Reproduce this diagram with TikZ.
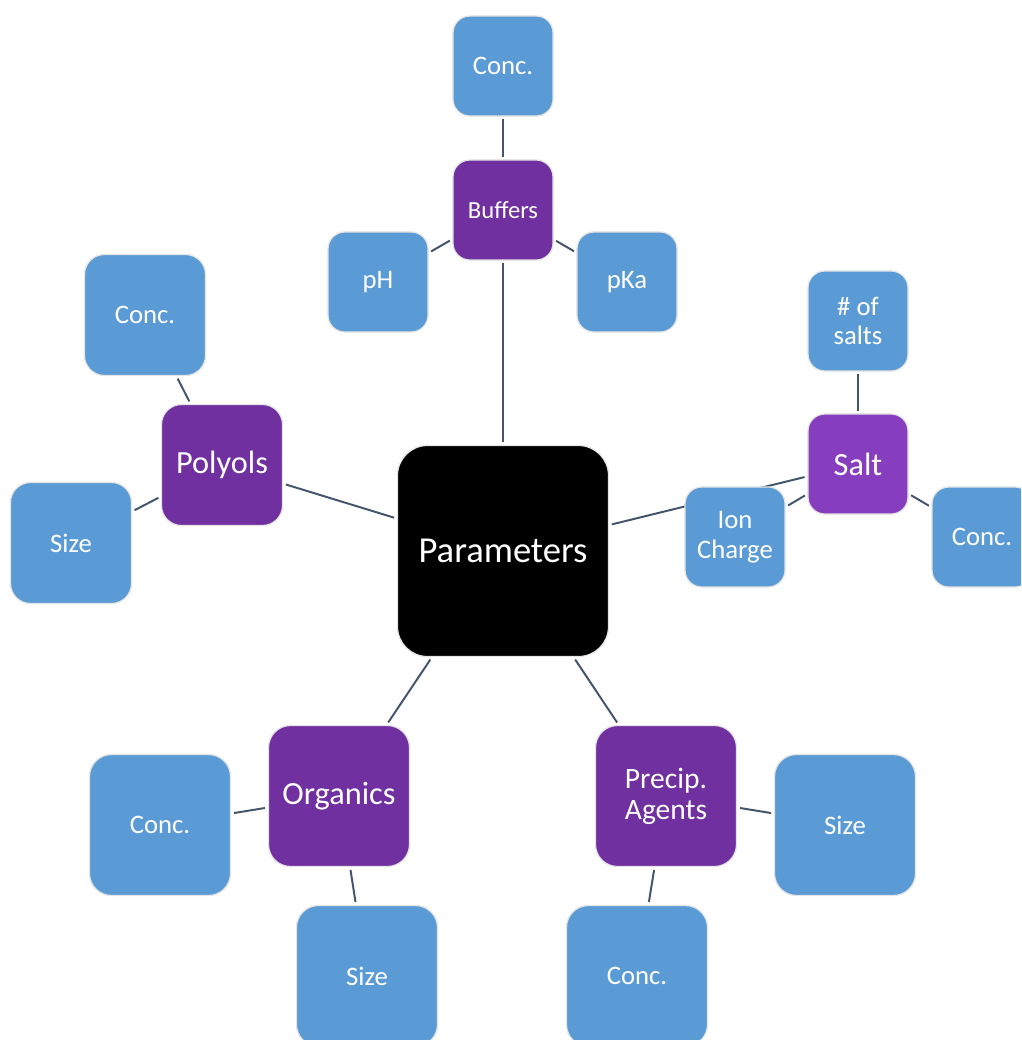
\documentclass[tikz,border=0pt]{standalone}
\usepackage{fontspec}
\setmainfont{Carlito}
\usetikzlibrary{backgrounds}
\definecolor{leafblue}{HTML}{5B9BD5}
\definecolor{topicpurple}{HTML}{7030A0}
\definecolor{saltpurple}{HTML}{873EBE}
\definecolor{linkgray}{HTML}{44546A}
\definecolor{rim}{HTML}{E4E4E4}
\tikzset{
  box/.style={draw=rim, line width=0.9pt, text=white, align=center, inner sep=0pt},
  sizeS/.style={minimum size=2.5cm, rounded corners=0.42cm},
  sizeM/.style={minimum size=3.025cm, rounded corners=0.5cm},
  sizeL/.style={minimum size=3.525cm, rounded corners=0.55cm},
  hub/.style={box, fill=black, minimum size=5.275cm, rounded corners=0.75cm,
    font=\fontsize{26}{30}\selectfont},
  topic/.style={box, fill=topicpurple, font=\fontsize{23}{24}\selectfont},
  leaf/.style={box, fill=leafblue, font=\fontsize{19}{21}\selectfont},
  link/.style={draw=linkgray, line width=1.4pt, shorten <=2pt, shorten >=2pt}
}

\begin{document}
\begin{tikzpicture}[x=0.025cm, y=-0.025cm]
  \useasboundingbox (0,0) rectangle (1021,1040);
  \clip (0,0) rectangle (1021,1040);
  \node[hub] (param) at (503,551) {Parameters};
  % Buffers
  \node[topic, sizeS, font=\fontsize{17.5}{20}\selectfont] (buf) at (503,210) {Buffers};
  \node[leaf, sizeS] (bufconc) at (503,66) {Conc.};
  \node[leaf, sizeS] (ph) at (378,282) {pH};
  \node[leaf, sizeS] (pka) at (627,282) {pKa};
  % Polyols
  \node[topic, sizeM] (poly) at (222,465) {Polyols};
  \node[leaf, sizeM] (polyconc) at (145,315) {Conc.};
  \node[leaf, sizeM] (polysize) at (71,543) {Size};
  % Salt
  \node[topic, sizeS, fill=saltpurple] (salt) at (858,464) {Salt};
  \node[leaf, sizeS] (nsalts) at (858,321) {\# of\\salts};
  \node[leaf, sizeS] (ion) at (735,537) {Ion\\Charge};
  \node[leaf, sizeS] (saltconc) at (982,537) {Conc.};
  % Organics
  \node[topic, sizeL] (org) at (339,796) {Organics};
  \node[leaf, sizeL] (orgconc) at (160,825) {Conc.};
  \node[leaf, sizeL] (orgsize) at (367,976) {Size};
  % Precip. Agents
  \node[topic, sizeL, font=\fontsize{21}{22}\selectfont] (prec) at (666,796) {Precip.\\Agents};
  \node[leaf, sizeL] (precsize) at (845,825) {Size};
  \node[leaf, sizeL] (precconc) at (637,976) {Conc.};
  % Verbindungen hinter den Kaesten
  \begin{pgfonlayer}{background}
    \foreach \a/\b in {param/buf, buf/bufconc, buf/ph, buf/pka,
      param/poly, poly/polyconc, poly/polysize,
      param/salt, salt/nsalts, salt/ion, salt/saltconc,
      param/org, org/orgconc, org/orgsize,
      param/prec, prec/precsize, prec/precconc}
      \draw[link] (\a) -- (\b);
  \end{pgfonlayer}
\end{tikzpicture}
\end{document}
